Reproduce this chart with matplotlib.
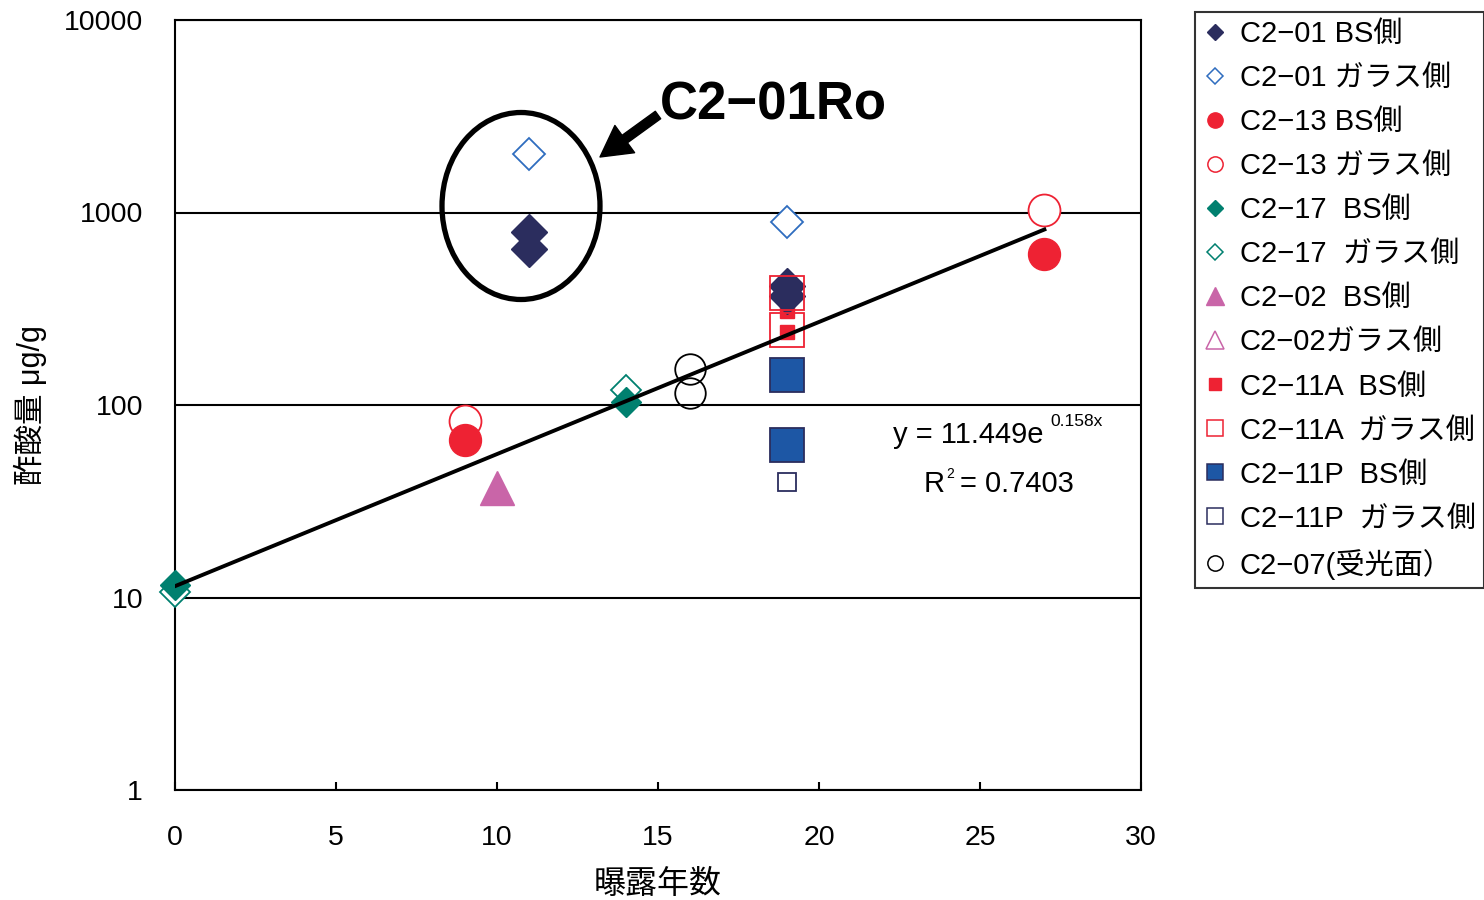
import matplotlib
matplotlib.use('Agg')
import matplotlib.pyplot as plt
from matplotlib.lines import Line2D
from matplotlib.patches import Ellipse
from matplotlib.ticker import NullLocator

plt.rcParams['font.family'] = ['Liberation Sans', 'Noto Sans CJK JP', 'DejaVu Sans']

# values: exposure years vs acetic acid (ug/g)
c201_bs_x = [11, 11, 19, 19]
c201_bs_y = [790, 645, 415, 368]
c201_gl_x = [11, 19]
c201_gl_y = [2010, 890]
c213_bs_x = [9, 27]
c213_bs_y = [66, 610]
c213_gl_x = [9, 27]
c213_gl_y = [83, 1030]
c217_bs_x = [0, 14]
c217_bs_y = [11.6, 104]
c217_gl_x = [0, 14]
c217_gl_y = [10.7, 120]
c202_bs_x = [10]
c202_bs_y = [37]
c202_gl_x = []
c202_gl_y = []
c211a_bs_x = [19, 19]
c211a_bs_y = [308, 240]
c211a_gl_x = [19, 19]
c211a_gl_y = [382, 245]
c211p_bs_x = [19, 19]
c211p_bs_y = [143, 62]
c211p_gl_x = [19]
c211p_gl_y = [40]
c207_x = [16, 16]
c207_y = [154, 115]

# exponential trend y = 11.449 e^(0.158x), end points
trend_x = [0, 27]
trend_y = [11.45, 816]

x_ticks = [0, 5, 10, 15, 20, 25, 30]
y_ticks = [1, 10, 100, 1000, 10000]
y_tick_labels = ['1', '10', '100', '1000', '10000']

labels = ['C2−01 BS側', 'C2−01 ガラス側', 'C2−13 BS側', 'C2−13 ガラス側',
          'C2−17  BS側', 'C2−17  ガラス側', 'C2−02  BS側', 'C2−02ガラス側',
          'C2−11A  BS側', 'C2−11A  ガラス側', 'C2−11P  BS側', 'C2−11P  ガラス側',
          'C2−07(受光面）']

navy = '#2B2D5E'
blue = '#2F6DBF'
red = '#EE2233'
teal = '#00806F'
pink = '#C965A8'
blue_sq = '#1D57A5'

fig = plt.figure(figsize=(14.84, 9), dpi=100)
ax = fig.add_axes([175 / 1484, 1 - 790 / 900, 966 / 1484, 770 / 900])

# Scatter series
kw = dict(ls='none', zorder=3, clip_on=False)
ax.plot(c217_gl_x, c217_gl_y, marker='D', ms=15, mfc='white', mec=teal, mew=1.3, **kw)
ax.plot(c217_bs_x, c217_bs_y, marker='D', ms=15, mfc=teal, mec=teal, **kw)
ax.plot(c213_gl_x, c213_gl_y, marker='o', ms=23, mfc='white', mec=red, mew=1.3, **kw)
ax.plot(c213_bs_x, c213_bs_y, marker='o', ms=23, mfc=red, mec=red, **kw)
ax.plot(c202_bs_x, c202_bs_y, marker='^', ms=25, mfc=pink, mec=pink, **kw)
ax.plot(c202_gl_x, c202_gl_y, marker='^', ms=25, mfc='white', mec=pink, mew=1.3, **kw)
ax.plot(c207_x, c207_y, marker='o', ms=22, mfc='none', mec='black', mew=1.3, **kw)
ax.plot(c211p_bs_x, c211p_bs_y, marker='s', ms=24, mfc=blue_sq, mec=navy, mew=1.3, **kw)
ax.plot(c211p_gl_x, c211p_gl_y, marker='s', ms=13, mfc='white', mec=navy, mew=1.3, **kw)
ax.plot(c211a_bs_x, c211a_bs_y, marker='s', ms=10, mfc=red, mec=red, **kw)
ax.plot(c201_bs_x, c201_bs_y, marker='D', ms=18, mfc=navy, mec=navy, **kw)
ax.plot(c211a_gl_x, c211a_gl_y, marker='s', ms=24, mfc='none', mec=red, mew=1.3, **kw)
ax.plot(c201_gl_x, c201_gl_y, marker='D', ms=16, mfc='white', mec=blue, mew=1.3, **kw)

# Trend line
ax.plot(trend_x, trend_y, color='black', lw=2.8, zorder=4)

ax.set_xlim(0, 30)
ax.set_yscale('log')
ax.set_ylim(1, 10000)
ax.set_xticks(x_ticks)
ax.set_xticklabels([str(t) for t in x_ticks])
ax.set_yticks(y_ticks)
ax.set_yticklabels(y_tick_labels)
ax.yaxis.set_minor_locator(NullLocator())
ax.tick_params(axis='x', direction='in', length=6, width=1.5, pad=25, labelsize=20.5)
ax.tick_params(axis='y', length=0, pad=23, labelsize=20.5)
ax.yaxis.grid(True, color='black', lw=1.5)
ax.set_axisbelow(True)
for s in ax.spines.values():
    s.set_linewidth(1.5)
    s.set_color('black')

ax.set_xlabel('曝露年数', fontsize=23, labelpad=14)
ax.set_ylabel('酢酸量 μg/g', fontsize=22, labelpad=12)

# Fit equation
fig.text(893 / 1484, 1 - 443 / 900, 'y = 11.449e', fontsize=21, va='baseline')
fig.text(1050 / 1484, 1 - 426 / 900, '0.158x', fontsize=12.5, va='baseline')
fig.text(924 / 1484, 1 - 492 / 900, 'R', fontsize=21, va='baseline')
fig.text(946 / 1484, 1 - 478 / 900, '2', fontsize=10, va='baseline')
fig.text(960 / 1484, 1 - 492 / 900, '= 0.7403', fontsize=21, va='baseline')

# Ellipse around the C2-01 points and callout
ell = Ellipse(((521 - 175) / 966, (790 - 206) / 770), 158 / 966, 187 / 770,
              transform=ax.transAxes, fill=False, ec='black', lw=3.8, zorder=5, clip_on=False)
ax.add_patch(ell)
ax.annotate('', xy=(600, 900 - 157), xytext=(658, 900 - 115),
            xycoords='figure pixels', textcoords='figure pixels',
            arrowprops=dict(arrowstyle='simple,head_length=1.0,head_width=1.1,tail_width=0.3',
                            color='black', shrinkA=0, shrinkB=0, mutation_scale=22))
fig.text(660 / 1484, 1 - 105 / 900, 'C2−01Ro', fontsize=38, fontweight='bold', va='center', ha='left')

# Legend
handles = [
    Line2D([], [], ls='none', marker='D', ms=8, mfc=navy, mec=navy),
    Line2D([], [], ls='none', marker='D', ms=8, mfc='white', mec=blue, mew=1.1),
    Line2D([], [], ls='none', marker='o', ms=11, mfc=red, mec=red),
    Line2D([], [], ls='none', marker='o', ms=11, mfc='white', mec=red, mew=1.1),
    Line2D([], [], ls='none', marker='D', ms=8, mfc=teal, mec=teal),
    Line2D([], [], ls='none', marker='D', ms=8, mfc='white', mec=teal, mew=1.1),
    Line2D([], [], ls='none', marker='^', ms=13, mfc=pink, mec=pink),
    Line2D([], [], ls='none', marker='^', ms=13, mfc='white', mec=pink, mew=1.1),
    Line2D([], [], ls='none', marker='s', ms=9, mfc=red, mec=red),
    Line2D([], [], ls='none', marker='s', ms=11, mfc='white', mec=red, mew=1.1),
    Line2D([], [], ls='none', marker='s', ms=11, mfc=blue_sq, mec=navy, mew=1.1),
    Line2D([], [], ls='none', marker='s', ms=11, mfc='white', mec=navy, mew=1.1),
    Line2D([], [], ls='none', marker='o', ms=11, mfc='white', mec='black', mew=1.1),
]
leg = fig.legend(handles, labels, loc='upper left', bbox_to_anchor=(1195 / 1484, 1 - 12 / 900),
                 frameon=True, fancybox=False, edgecolor='black', fontsize=21,
                 labelspacing=0.55, handlelength=0.8, handletextpad=0.45, borderpad=0.28,
                 borderaxespad=0)
leg.get_frame().set_linewidth(1.5)

fig.savefig('out.png', dpi=100)
